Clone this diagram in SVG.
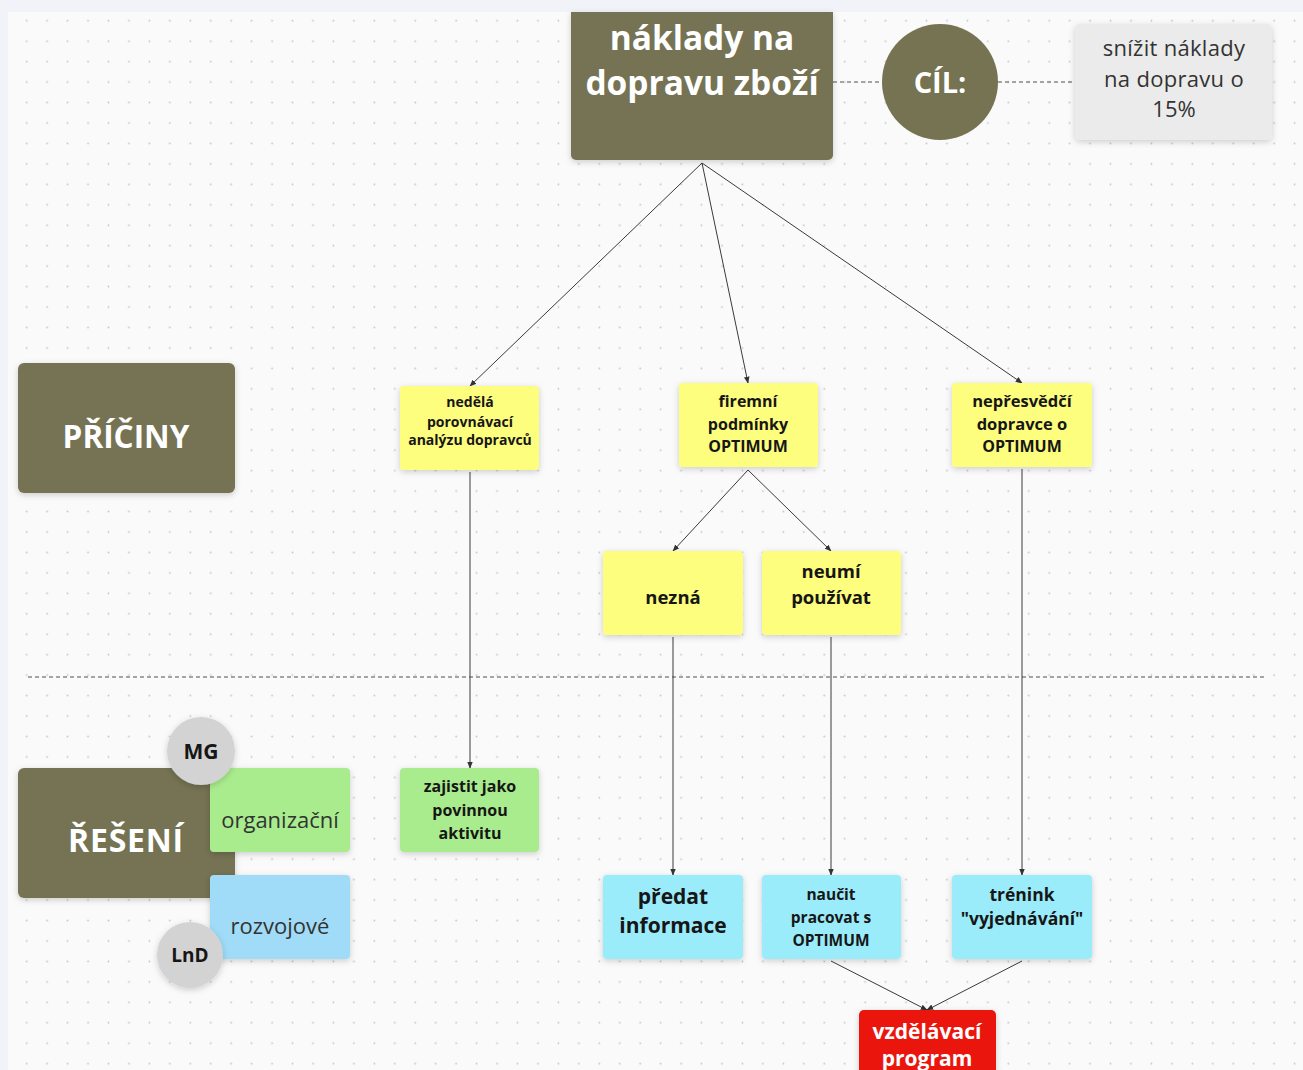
<svg xmlns="http://www.w3.org/2000/svg" width="1303" height="1070" viewBox="0 0 1303 1070">
<defs>
<pattern id="dots" patternUnits="userSpaceOnUse" x="16.5" y="10.5" width="20.45" height="20.45">
<circle cx="10.2" cy="10.2" r="0.9" fill="#c4c4c4"/>
</pattern>
<filter id="sh" x="-20%" y="-20%" width="140%" height="150%">
<feDropShadow dx="0" dy="2" stdDeviation="3" flood-color="#000" flood-opacity="0.18"/>
</filter>
<marker id="ah" viewBox="0 0 10 10" refX="9" refY="5" markerWidth="7" markerHeight="7" orient="auto-start-reverse" markerUnits="userSpaceOnUse">
<path d="M0,1 L10,5 L0,9 z" fill="#333"/>
</marker>
<style>
.olive{fill:#757352}
.yel{fill:#fdfd7e}
.grn{fill:#a9ec8e}
.blu{fill:#9becfb}
.lblu{fill:#a0dbf7}
.gry{fill:#d3d3d3}
.t{font-family:"Open Sans","Liberation Sans",sans-serif;text-anchor:middle}
.w{fill:#ffffff;font-weight:700}
.k{fill:#161616;font-weight:700}
.r{fill:#333333;font-weight:400}
.c{stroke:#3a3a3a;stroke-width:1;fill:none}
.d{stroke:#888;stroke-width:1.3;stroke-dasharray:4 3;fill:none}
</style>
</defs>
<rect x="0" y="0" width="1303" height="1070" fill="#f1f3f8"/>
<rect x="8" y="12" width="1295" height="1058" fill="#fafafa"/>
<rect x="8" y="12" width="1295" height="1058" fill="url(#dots)"/>

<g id="connectors">
<line class="d" x1="833" y1="82" x2="882" y2="82"/>
<line class="d" x1="998" y1="82" x2="1075" y2="82"/>
<line class="d" x1="28" y1="677" x2="1266" y2="677"/>
<line class="c" x1="702" y1="163" x2="470" y2="386" marker-end="url(#ah)"/>
<line class="c" x1="702" y1="163" x2="748" y2="383" marker-end="url(#ah)"/>
<line class="c" x1="702" y1="163" x2="1022" y2="383" marker-end="url(#ah)"/>
<line class="c" x1="748" y1="470" x2="673" y2="551" marker-end="url(#ah)"/>
<line class="c" x1="748" y1="470" x2="831" y2="551" marker-end="url(#ah)"/>
<line class="c" x1="470" y1="472" x2="470" y2="768" marker-end="url(#ah)"/>
<line class="c" x1="673" y1="637" x2="673" y2="875" marker-end="url(#ah)"/>
<line class="c" x1="831" y1="637" x2="831" y2="875" marker-end="url(#ah)"/>
<line class="c" x1="1022" y1="469" x2="1022" y2="875" marker-end="url(#ah)"/>
<line class="c" x1="831" y1="961" x2="927" y2="1010" marker-end="url(#ah)"/>
<line class="c" x1="1022" y1="961" x2="927" y2="1010" marker-end="url(#ah)"/>
</g>

<g id="problem">
<path class="olive" d="M571,12 H833 V155 a5,5 0 0 1 -5,5 H576 a5,5 0 0 1 -5,-5 Z" filter="url(#sh)"/>
<text class="t w" x="702" y="50" font-size="33.5">náklady na</text>
<text class="t w" x="702" y="95" font-size="33.5">dopravu zboží</text>
</g>

<g id="cil">
<circle class="olive" cx="940" cy="82" r="58"/>
<text class="t w" x="940" y="93" font-size="29">CÍL:</text>
</g>

<g id="goal">
<rect x="1075" y="24" width="197" height="116" rx="5" fill="#ebebeb" filter="url(#sh)"/>
<text class="t r" x="1174" y="56" font-size="22" letter-spacing="0.3">snížit náklady</text>
<text class="t r" x="1174" y="87" font-size="22" letter-spacing="0.3">na dopravu o</text>
<text class="t r" x="1174" y="117" font-size="22">15%</text>
</g>

<g id="priciny">
<rect class="olive" x="18" y="363" width="217" height="130" rx="6" filter="url(#sh)"/>
<text class="t w" x="126" y="448" font-size="31.5">PŘÍČINY</text>
</g>

<g id="reseni">
<rect class="olive" x="18" y="768" width="217" height="130" rx="6" filter="url(#sh)"/>
<text class="t w" x="126" y="852" font-size="32" letter-spacing="0.8">ŘEŠENÍ</text>
</g>

<g id="organizacni">
<rect class="grn" x="210" y="768" width="140" height="84" rx="4" filter="url(#sh)"/>
<text class="t r" x="280" y="828" font-size="22">organizační</text>
</g>

<g id="rozvojove">
<rect class="lblu" x="210" y="875" width="140" height="84" rx="4" filter="url(#sh)"/>
<text class="t r" x="280" y="934" font-size="22">rozvojové</text>
</g>

<g id="mg">
<circle class="gry" cx="201" cy="751" r="34" filter="url(#sh)"/>
<text class="t k" x="201" y="759" font-size="21">MG</text>
</g>

<g id="lnd">
<circle class="gry" cx="190" cy="955" r="33" filter="url(#sh)"/>
<text class="t k" x="190" y="962" font-size="19">LnD</text>
</g>

<g id="nedela">
<rect class="yel" x="400" y="386" width="139" height="84" rx="4" filter="url(#sh)"/>
<text class="t k" x="470" y="407" font-size="14" font-weight="600">nedělá</text>
<text class="t k" x="470" y="427" font-size="14" font-weight="600">porovnávací</text>
<text class="t k" x="470" y="445" font-size="14" font-weight="600">analýzu dopravců</text>
</g>

<g id="firemni">
<rect class="yel" x="679" y="383" width="139" height="84" rx="4" filter="url(#sh)"/>
<text class="t k" x="748" y="407" font-size="16">firemní</text>
<text class="t k" x="748" y="430" font-size="16">podmínky</text>
<text class="t k" x="748" y="452" font-size="16">OPTIMUM</text>
</g>

<g id="nepresvedci">
<rect class="yel" x="952" y="383" width="140" height="84" rx="4" filter="url(#sh)"/>
<text class="t k" x="1022" y="407" font-size="16.5">nepřesvědčí</text>
<text class="t k" x="1022" y="430" font-size="16.5">dopravce o</text>
<text class="t k" x="1022" y="452" font-size="16">OPTIMUM</text>
</g>

<g id="nezna">
<rect class="yel" x="603" y="551" width="140" height="84" rx="4" filter="url(#sh)"/>
<text class="t k" x="673" y="604" font-size="18.5">nezná</text>
</g>

<g id="neumi">
<rect class="yel" x="762" y="551" width="139" height="84" rx="4" filter="url(#sh)"/>
<text class="t k" x="831" y="578" font-size="18.5">neumí</text>
<text class="t k" x="831" y="604" font-size="18.5">používat</text>
</g>

<g id="zajistit">
<rect class="grn" x="400" y="768" width="139" height="84" rx="4" filter="url(#sh)"/>
<text class="t k" x="470" y="792" font-size="16">zajistit jako</text>
<text class="t k" x="470" y="816" font-size="16">povinnou</text>
<text class="t k" x="470" y="839" font-size="16">aktivitu</text>
</g>

<g id="predat">
<rect class="blu" x="603" y="875" width="140" height="84" rx="4" filter="url(#sh)"/>
<text class="t k" x="673" y="904" font-size="21">předat</text>
<text class="t k" x="673" y="933" font-size="21">informace</text>
</g>

<g id="naucit">
<rect class="blu" x="762" y="875" width="139" height="84" rx="4" filter="url(#sh)"/>
<text class="t k" x="831" y="900" font-size="15.5">naučit</text>
<text class="t k" x="831" y="923" font-size="15.5">pracovat s</text>
<text class="t k" x="831" y="946" font-size="15.5">OPTIMUM</text>
</g>

<g id="trenink">
<rect class="blu" x="952" y="875" width="140" height="84" rx="4" filter="url(#sh)"/>
<text class="t k" x="1022" y="901" font-size="17.5">trénink</text>
<text class="t k" x="1022" y="925" font-size="17.5">"vyjednávání"</text>
</g>

<g id="program">
<rect x="859" y="1010" width="137" height="70" rx="5" fill="#ea120a" filter="url(#sh)"/>
<text class="t w" x="927" y="1039" font-size="21">vzdělávací</text>
<text class="t w" x="927" y="1066" font-size="21">program</text>
</g>
</svg>
